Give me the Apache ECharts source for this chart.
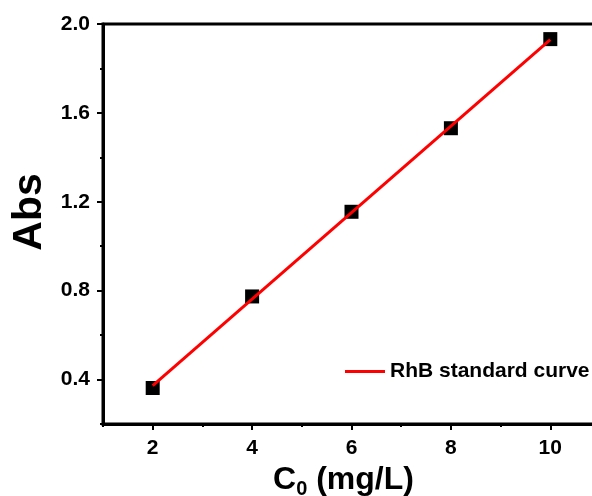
<!DOCTYPE html>
<html lang="en" style="height: 100%">
<head>
  <meta charset="utf-8">
</head>
<body style="height: 100%; margin: 0; background: #fff">
  <div id="container" style="width: 592px; height: 496px"></div>
  <script type="text/javascript" src="https://cdn.jsdelivr.net/npm/echarts@6/dist/echarts.min.js"></script>
  <script type="text/javascript">
    // measured points
    var concentration = [2, 4, 6, 8, 10];
    var absorbance = [0.362, 0.774, 1.155, 1.531, 1.932];
    // fitted standard curve (end points)
    var fitX = [2, 10];
    var fitY = [0.373, 1.930];

    var xMajor = [2, 4, 6, 8, 10];
    var xMinor = [1, 3, 5, 7, 9, 11];
    var yMajor = [0.4, 0.8, 1.2, 1.6, 2.0];
    var yMinor = [0.2, 0.6, 1.0, 1.4, 1.8];

    var font = '"Liberation Sans", Arial, sans-serif';

    var points = concentration.map(function(x, i) { return [x, absorbance[i]]; });
    var fitLine = fitX.map(function(x, i) { return [x, fitY[i]]; });

    var myChart = echarts.init(document.getElementById('container'));

    var option = {
      animation: false,
      grid: {
        left: 103, top: 24, width: 497, height: 400,
        outerBoundsMode: 'none',
        containLabel: false,
        show: true, borderColor: '#000', borderWidth: 3
      },
      legend: {
        left: 340, top: 356,
        itemWidth: 40, itemHeight: 3, itemGap: 4,
        textStyle: { fontFamily: font, fontWeight: 'bold', fontSize: 21, color: '#000' },
        data: [{ name: 'RhB standard curve', icon: 'rect' }]
      },
      xAxis: [
        {
          type: 'value', min: 1, max: 11,
          splitLine: { show: false },
          axisLine: { lineStyle: { color: '#000', width: 3 } },
          axisTick: { customValues: xMajor, length: 6, lineStyle: { color: '#000', width: 2 } },
          axisLabel: { customValues: xMajor, margin: 14, fontFamily: font, fontWeight: 'bold', fontSize: 21, color: '#000' },
          name: '{m|C}{s|0}{m| (mg/L)}',
          nameLocation: 'middle',
          nameGap: 35,
          nameTextStyle: {
            padding: [0, 16, 0, 0],
            rich: {
              m: { fontFamily: font, fontWeight: 'bold', fontSize: 32, color: '#000' },
              s: { fontFamily: font, fontWeight: 'bold', fontSize: 20, color: '#000', verticalAlign: 'bottom', padding: [20, 0, 0, 0] }
            }
          }
        },
        {
          type: 'value', min: 1, max: 11, position: 'bottom',
          splitLine: { show: false },
          axisLine: { show: false },
          axisTick: { customValues: xMinor, length: 3, lineStyle: { color: '#000', width: 2 } },
          axisLabel: { show: false }
        }
      ],
      yAxis: [
        {
          type: 'value', min: 0.2, max: 2.0,
          splitLine: { show: false },
          axisLine: { lineStyle: { color: '#000', width: 3 } },
          axisTick: { customValues: yMajor, length: 6, lineStyle: { color: '#000', width: 2 } },
          axisLabel: {
            customValues: yMajor, margin: 13, fontFamily: font, fontWeight: 'bold', fontSize: 21, color: '#000',
            formatter: function(v) { return v.toFixed(1); }
          },
          name: 'Abs',
          nameLocation: 'middle',
          nameGap: 52,
          nameRotate: 90,
          nameTextStyle: { fontFamily: font, fontWeight: 'bold', fontSize: 41, color: '#000', padding: [0, 0, 0, 24] }
        },
        {
          type: 'value', min: 0.2, max: 2.0, position: 'left',
          splitLine: { show: false },
          axisLine: { show: false },
          axisTick: { customValues: yMinor, length: 3, lineStyle: { color: '#000', width: 2 } },
          axisLabel: { show: false }
        }
      ],
      series: [
        {
          type: 'scatter',
          name: 'data',
          symbol: 'rect',
          symbolSize: 14,
          itemStyle: { color: '#000', opacity: 1 },
          data: points,
          z: 2
        },
        {
          type: 'line',
          name: 'RhB standard curve',
          symbol: 'none',
          lineStyle: { color: '#ff0000', width: 3 },
          itemStyle: { color: '#ff0000' },
          data: fitLine,
          z: 3
        }
      ]
    };

    myChart.setOption(option);
  </script>
</body>
</html>
